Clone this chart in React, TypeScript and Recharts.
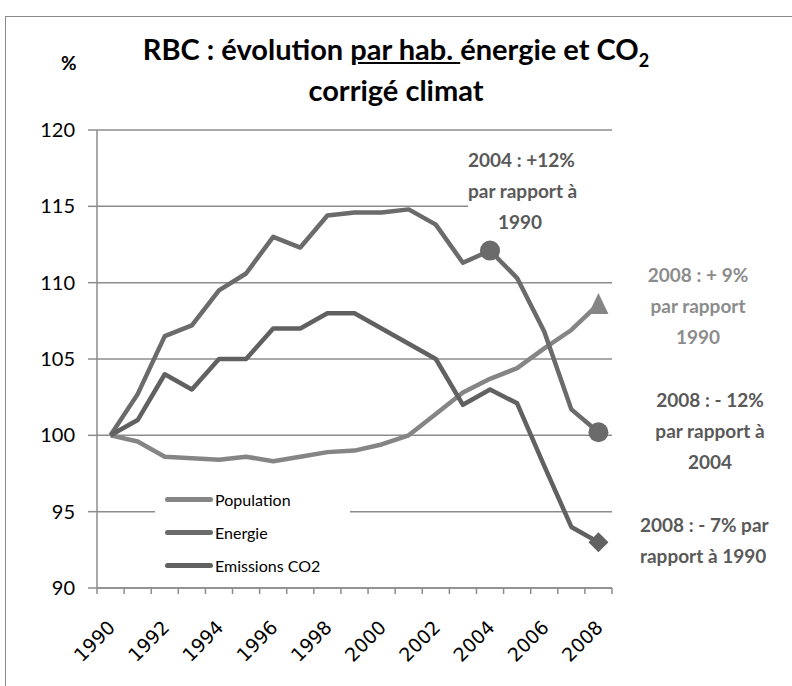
import React from 'react';
import { LineChart, Line, XAxis, YAxis, CartesianGrid, Legend } from 'recharts';

const years = ['1990', '1991', '1992', '1993', '1994', '1995', '1996', '1997', '1998', '1999', '2000', '2001', '2002', '2003', '2004', '2005', '2006', '2007', '2008'];
const population = [100, 99.6, 98.6, 98.5, 98.4, 98.6, 98.3, 98.6, 98.9, 99.0, 99.4, 100.0, 101.4, 102.8, 103.7, 104.4, 105.7, 106.9, 108.6];
const energie = [100, 102.7, 106.5, 107.2, 109.5, 110.6, 113.0, 112.3, 114.4, 114.6, 114.6, 114.8, 113.8, 111.3, 112.1, 110.3, 106.8, 101.7, 100.2];
const co2 = [100, 101.0, 104.0, 103.0, 105.0, 105.0, 107.0, 107.0, 108.0, 108.0, 107.0, 106.0, 105.0, 102.0, 103.0, 102.1, 98.0, 94.0, 93.0];
const yTicks = [90, 95, 100, 105, 110, 115, 120];
const labelYears = ['1990', '1992', '1994', '1996', '1998', '2000', '2002', '2004', '2006', '2008'];
const legendOrder = ['Population', 'Energie', 'Emissions CO2'];

const populationMarks = ['2008'];
const energieMarks = ['2004', '2008'];
const co2Marks = ['2008'];

const data = years.map((year, i) => ({ year, population: population[i], energie: energie[i], co2: co2[i] }));

const FONT = 'Lato, "Liberation Sans", sans-serif';
const C_POP = '#858585';
const C_EN = '#6b6b6b';
const C_CO2 = '#616161';
const GRID = '#8c8c8c';

const makeDot = (marks: string[], shape: 'circle' | 'triangle' | 'diamond', color: string) => (props: any) => {
  const { cx, cy, payload, index } = props;
  if (!marks.includes(payload.year)) return <g key={index} />;
  if (shape === 'circle') return <circle key={index} cx={cx} cy={cy} r={10} fill={color} />;
  if (shape === 'triangle')
    return <polygon key={index} points={`${cx},${cy - 11} ${cx - 10},${cy + 10} ${cx + 10},${cy + 10}`} fill={color} />;
  return <polygon key={index} points={`${cx},${cy - 10} ${cx + 10},${cy} ${cx},${cy + 10} ${cx - 10},${cy}`} fill={color} />;
};

function XTick(props: any) {
  const { x, y, payload, index } = props;
  const half = payload.offset || 13.5;
  const ax = x + 1;
  const ay = y + 28;
  return (
    <g>
      <line x1={x - half} x2={x - half} y1={y - 8} y2={y - 2} stroke={GRID} strokeWidth={1.5} />
      {index === years.length - 1 && <line x1={x + half} x2={x + half} y1={y - 8} y2={y - 2} stroke={GRID} strokeWidth={1.5} />}
      {labelYears.includes(payload.value) && (
        <text x={ax} y={ay} transform={`rotate(-45 ${ax} ${ay})`} textAnchor="end" dy="0.35em"
          fontFamily='"DejaVu Sans", sans-serif' fontSize={19} fill="#000">
          {payload.value}
        </text>
      )}
    </g>
  );
}

function LegendBox({ payload }: any) {
  const items = [...(payload || [])].sort((a: any, b: any) => legendOrder.indexOf(a.value) - legendOrder.indexOf(b.value));
  return (
    <div style={{ background: '#fff', fontFamily: FONT, fontSize: 16, color: '#000', textAlign: 'left' }}>
      {items.map((p: any) => (
        <div key={p.value} style={{ display: 'flex', alignItems: 'center', height: 33 }}>
          <span style={{ display: 'inline-block', width: 48, height: 5, borderRadius: 3, background: p.color, marginLeft: 10, marginRight: 2 }} />
          <span>{p.value}</span>
        </div>
      ))}
    </div>
  );
}

const note = (color: string): React.CSSProperties => ({
  position: 'absolute', fontFamily: FONT, fontWeight: 'bold', fontSize: 19, lineHeight: '31px',
  color, textAlign: 'center', whiteSpace: 'nowrap',
});

export default function App() {
  return (
    <div style={{ position: 'absolute', left: 0, top: 0, width: 792, height: 686, background: '#fff', overflow: 'hidden' }}>
      <div style={{ position: 'absolute', left: 5, top: 16, width: 820, height: 720, borderTop: '1.5px solid #8a8a8a', borderLeft: '1.5px solid #8a8a8a' }} />
      <LineChart width={792} height={686} data={data} margin={{ top: 130, right: 180, bottom: 38, left: 37 }}>
        <CartesianGrid vertical={false} stroke={GRID} strokeWidth={1.5} />
        <XAxis dataKey="year" scale="band" interval={0} height={60} axisLine={{ stroke: GRID, strokeWidth: 1.5 }}
          tickLine={false} tick={<XTick />} />
        <YAxis domain={[90, 120]} ticks={yTicks} width={60} tickSize={9} tickMargin={13}
          axisLine={{ stroke: GRID, strokeWidth: 1.5 }} tickLine={{ stroke: GRID, strokeWidth: 1.5 }}
          tick={{ fontFamily: FONT, fontSize: 20, fill: '#000' }} />
        <Legend layout="horizontal" verticalAlign="middle" align="center" content={<LegendBox />}
          wrapperStyle={{ left: 155, top: 483, width: 195 }} />
        <Line dataKey="population" name="Population" stroke={C_POP} strokeWidth={4.5} strokeLinejoin="round"
          dot={makeDot(populationMarks, 'triangle', C_POP)} activeDot={false} isAnimationActive={false} />
        <Line dataKey="energie" name="Energie" stroke={C_EN} strokeWidth={4.5} strokeLinejoin="round"
          dot={makeDot(energieMarks, 'circle', C_EN)} activeDot={false} isAnimationActive={false} />
        <Line dataKey="co2" name="Emissions CO2" stroke={C_CO2} strokeWidth={4.5} strokeLinejoin="round"
          dot={makeDot(co2Marks, 'diamond', C_CO2)} activeDot={false} isAnimationActive={false} />
      </LineChart>

      <div style={{ position: 'absolute', left: 0, width: 792, top: 28, textAlign: 'center', fontFamily: FONT, fontWeight: 'bold', fontSize: 29, lineHeight: '41px', color: '#000' }}>
        <div style={{ paddingLeft: 0 }}>
          RBC : évolution <span style={{ textDecoration: 'underline' }}>par hab. </span>énergie et CO<sub style={{ fontSize: 18, lineHeight: 0 }}>2</sub>
        </div>
        <div>corrigé climat</div>
      </div>
      <div style={{ position: 'absolute', left: 61, top: 51, fontFamily: FONT, fontWeight: 'bold', fontSize: 19, color: '#000' }}>%</div>

      <div style={{ ...note('#595959'), left: 468, top: 144, width: 104, paddingRight: 44, background: '#fff' }}>
        2004 : +12%<br />par rapport à<br />1990
      </div>
      <div style={{ ...note('#8c8c8c'), left: 640, top: 259, width: 116 }}>
        2008 : + 9%<br />par rapport<br />1990
      </div>
      <div style={{ ...note('#595959'), left: 650, top: 384, width: 120 }}>
        2008 : - 12%<br />par rapport à<br />2004
      </div>
      <div style={{ ...note('#595959'), left: 640, top: 509, width: 126 }}>
        2008 : - 7% par<br />rapport à 1990
      </div>
    </div>
  );
}
